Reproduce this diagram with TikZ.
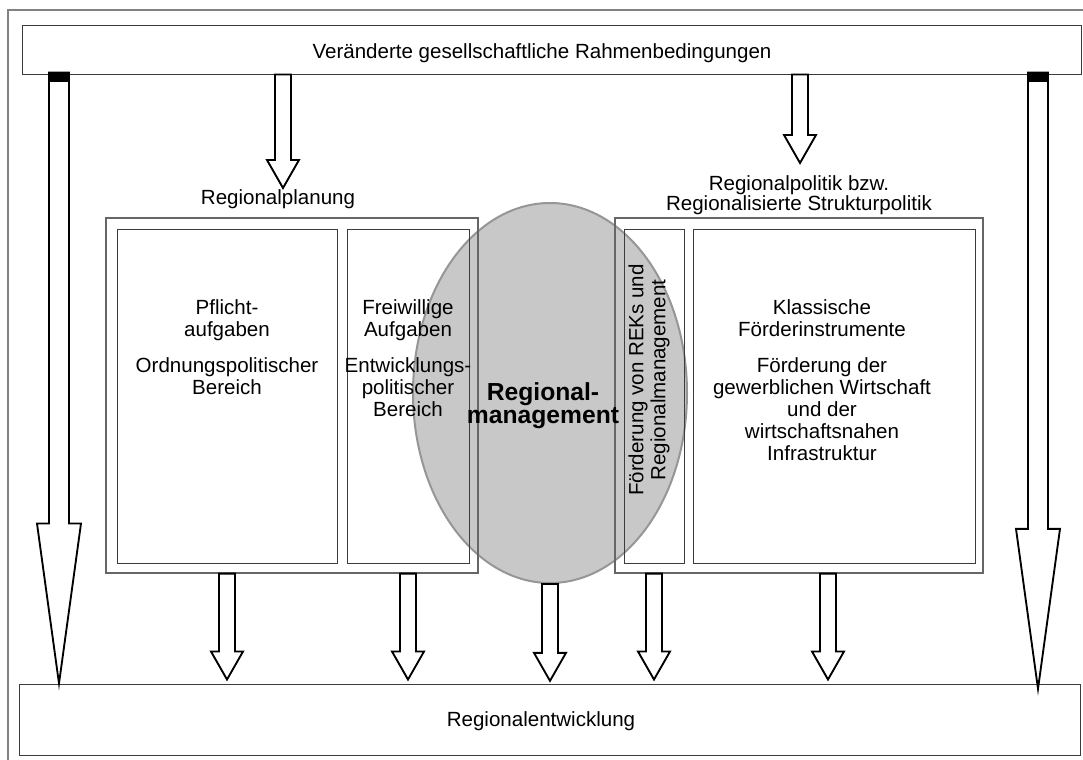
\documentclass[tikz,border=0pt]{standalone}
\usepackage{fontspec}
\setmainfont{Liberation Sans}
\usetikzlibrary{positioning,fit,calc,shapes.geometric}
\definecolor{ellfill}{RGB}{200,200,200}
\definecolor{elldraw}{RGB}{150,150,150}
\definecolor{boxline}{RGB}{60,60,60}
\definecolor{frameline}{RGB}{130,130,130}
\tikzset{
    frame/.style = {draw=frameline, line width=0.8pt},
    box/.style = {draw=boxline, line width=0.75pt, inner sep=0pt},
    groupbox/.style = {draw=black!60, line width=0.9pt, inner sep=0pt},
    txt/.style = {align=center, inner sep=0pt, font=\fontsize{15.4}{16.5}\selectfont},
    rmtxt/.style = {txt, font=\fontsize{18.5}{17.5}\selectfont\bfseries},
    rmellipse/.style = {ellipse, fill=ellfill, draw=elldraw, line width=1.5pt, inner sep=0pt, minimum width=205.5pt, minimum height=285pt},
    hollow/.style = {draw=black, fill=white, line width=1.4pt, line join=miter},
}
\newcommand{\blockarrow}[5]{%
  \draw[hollow] let \p1=(#1), \p2=(#2) in
    (\x1-#3,\y1) -- (\x1-#3,\y2+#5) -- (\x1-#4,\y2+#5) -- (\x1,\y2)
    -- (\x1+#4,\y2+#5) -- (\x1+#3,\y2+#5) -- (\x1+#3,\y1) -- cycle;}
\newcommand{\arrowcap}[1]{%
  \fill let \p1=(#1) in (\x1-7.5pt,\y1) rectangle (\x1+7.5pt,\y1-6.75pt);}
\begin{document}
\begin{tikzpicture}[x=0.75pt, y=-0.75pt]
\useasboundingbox (0,0) rectangle (1083,760);
\draw[frame] (8,760) -- (8,10) -- (1083,10);

% Regionalmanagement behind the boxes
\node[rmellipse] (rm) at (550,393) {};

% main boxes
\node[box, fit={(22,25) (1081,74)}] (top) {};
\node[box, fit={(19,684) (1080,755)}] (entw) {};
\node[txt, anchor=base] (toptext) at (542,58) {Veränderte gesellschaftliche Rahmenbedingungen};
\node[txt, anchor=base] (entwtext) at (541,726) {Regionalentwicklung};

% Regionalplanung
\node[groupbox, fit={(106,218) (478,573)}] (plan) {};
\node[box, fit={(117,229) (337,563)}] (pflicht) {};
\node[box, fit={(347,229) (469,563)}] (frei) {};
\node[txt, above=6pt, xshift=-10.5pt] (plantext) at (plan.north) {Regionalplanung};
\node[txt, below=53pt] (pflichttext) at (pflicht.north) {Pflicht-\\aufgaben\\[10.5pt]Ordnungspolitischer\\Bereich};
\node[txt, below=53pt] (freitext) at (frei.north) {Freiwillige\\Aufgaben\\[10.5pt]Entwicklungs-\\politischer\\Bereich};

% Regionalpolitik
\node[groupbox, fit={(615,218) (983,573)}] (politik) {};
\node[box, fit={(624,229) (684,563)}] (rek) {};
\node[box, fit={(693,229) (975,563)}] (klass) {};
\node[txt, above=1.5pt, font=\fontsize{15.4}{15}\selectfont] (politiktext) at (politik.north) {Regionalpolitik bzw.\\Regionalisierte Strukturpolitik};
\node[txt, rotate=90] (rektext) at (649,380) {Förderung von REKs und\\Regionalmanagement};
\node[txt, below=53pt, xshift=-9pt] (klasstext) at (klass.north) {Klassische\\Förderinstrumente\\[10.5pt]Förderung der\\gewerblichen Wirtschaft\\und der\\wirtschaftsnahen\\Infrastruktur};

\node[rmtxt] (rmtext) at (543,406) {Regional-\\management};

% arrow positions
\coordinate (bigl) at (59,0);
\coordinate (bigr) at (1038,0);
\coordinate (tipplan) at (283,188);
\coordinate (tippol) at (800,163);
\coordinate (kx) at (828,0);

% arrows from the top
\blockarrow{top.south -| tipplan}{tipplan}{6pt}{12pt}{21pt}
\blockarrow{top.south -| tippol}{tippol}{6pt}{12pt}{21pt}

% long arrows
\coordinate (bigltop) at ([yshift=1.5pt]top.south -| bigl);
\coordinate (bigrtop) at ([yshift=1.5pt]top.south -| bigr);
\blockarrow{bigltop}{entw.north -| bigl}{7.5pt}{16.5pt}{120pt}
\blockarrow{bigrtop}{[yshift=-4pt]entw.north -| bigr}{7.5pt}{16.5pt}{120pt}
\arrowcap{bigltop}
\arrowcap{bigrtop}

% arrows into Regionalentwicklung
\blockarrow{plan.south -| pflicht.south}{[yshift=3pt]entw.north -| pflicht.south}{6pt}{12pt}{21pt}
\blockarrow{plan.south -| frei.south}{[yshift=3pt]entw.north -| frei.south}{6pt}{12pt}{21pt}
\blockarrow{rm.south}{[yshift=2pt]entw.north -| rm.south}{6pt}{12pt}{21pt}
\blockarrow{politik.south -| rek.south}{[yshift=3pt]entw.north -| rek.south}{6pt}{12pt}{21pt}
\blockarrow{politik.south -| kx}{[yshift=3pt]entw.north -| kx}{6pt}{12pt}{21pt}
\end{tikzpicture}
\end{document}
